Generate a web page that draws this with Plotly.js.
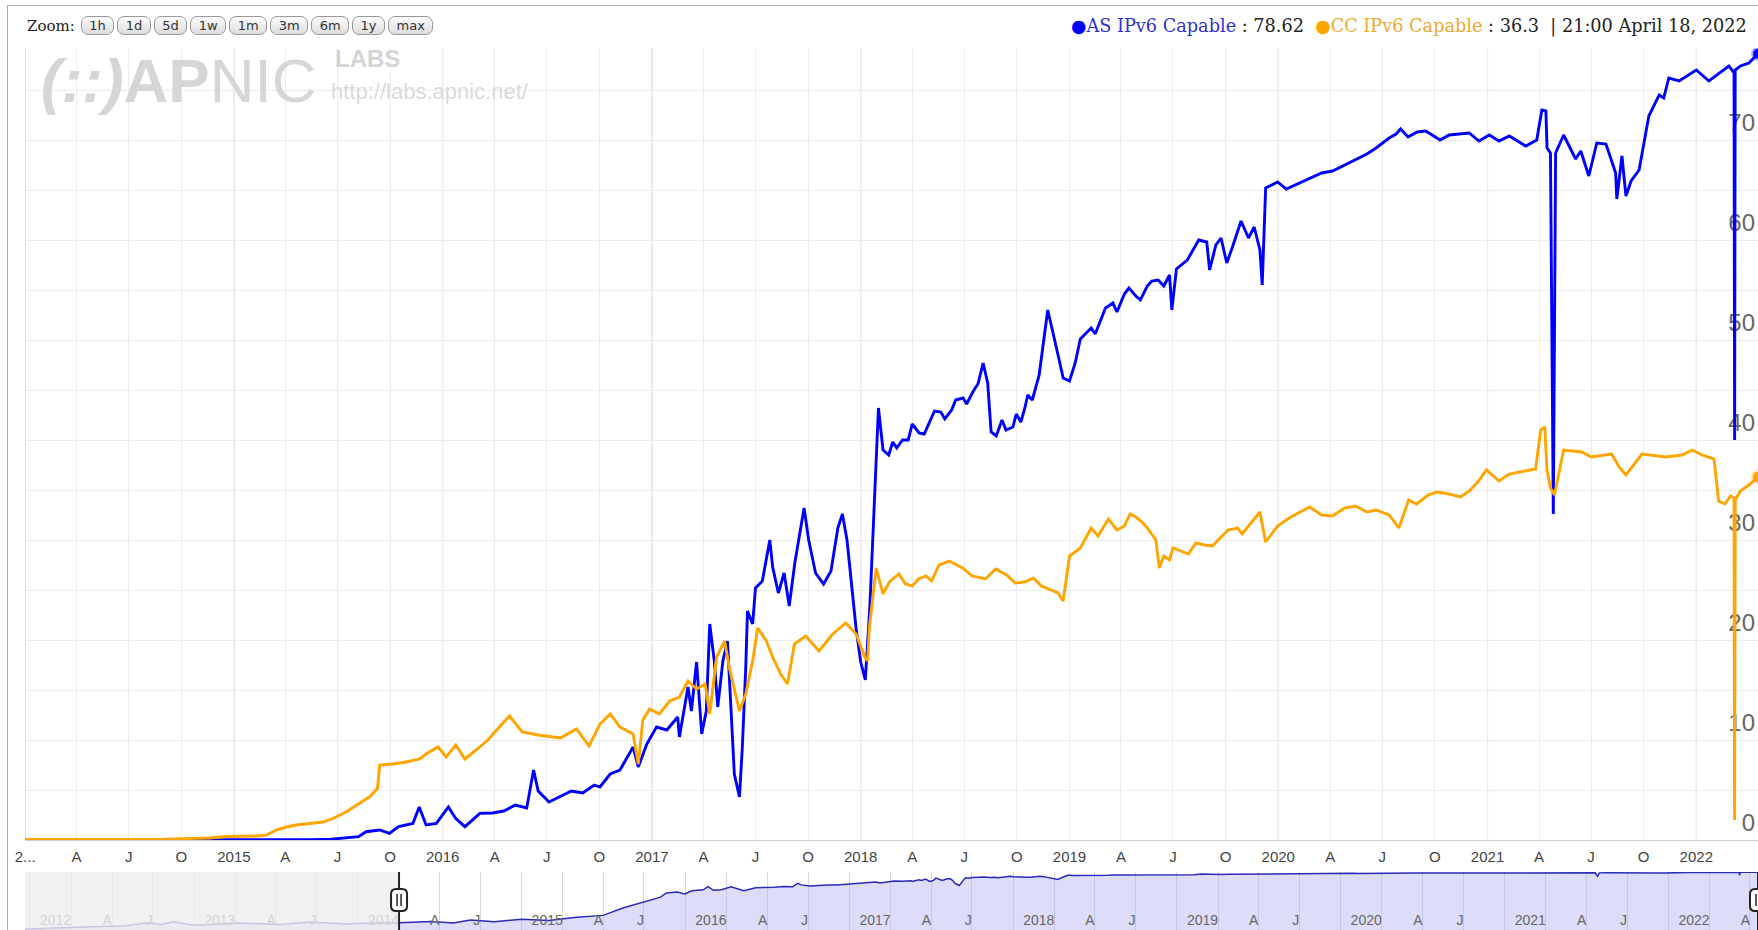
<!DOCTYPE html>
<html>
<head>
<meta charset="utf-8">
<script src="https://cdn.plot.ly/plotly-3.0.1.min.js"></script>
<style>
  body { margin: 0; overflow: hidden; background: #fff; }
  #frame { position: absolute; left: 7px; top: 5px; width: 2000px; height: 2000px; border: 1px solid #aaa; z-index: 0; }
  #chart { position: absolute; left: 0; top: 0; width: 1758px; height: 960px; z-index: 1; }
  #zoombar { position: absolute; left: 27px; top: 16px; display: flex; align-items: center; z-index: 2;
             font-family: 'DejaVu Serif', serif; font-size: 15px; color: #222; }
  .btn { display: inline-block; height: 17px; line-height: 17px; padding: 0 7.5px; margin-left: 3px;
         border: 1px solid #999; border-radius: 7px; background: linear-gradient(#fdfdfd, #dcdcdc);
         font-family: 'DejaVu Sans', sans-serif; font-size: 13px; color: #333; }
  .btn.first { margin-left: 6px; }
</style>
</head>
<body>
<div id="frame"></div>
<div id="chart"></div>
<div id="zoombar"><span>Zoom:</span></div>
<script>
// AS IPv6 Capable (blue), [date, percent] - starts early because the navigator shows it too
var asPoints = [
  ['2011-09-20',0.0003],['2012-01-15',0.0004],['2012-05-01',0.0006],['2012-06-20',0.0012],['2012-07-20',0.0008],
  ['2012-08-15',0.0015],['2012-10-01',0.0007],['2013-01-10',0.0011],['2013-04-10',0.0008],['2013-06-20',0.0014],
  ['2013-09-01',0.0009],['2013-11-15',0.0012],['2014-01-01',0.0012],['2014-03-15',0.0016],['2014-05-01',0.0011],
  ['2014-06-10',0.0022],['2014-08-01',0.0015],['2014-10-01',0.0025],['2014-12-01',0.002],['2015-02-01',0.004],
  ['2015-04-01',0.006],['2015-05-15',0.03],['2015-06-20',0.08],['2015-07-20',0.2],['2015-08-07',0.33],
  ['2015-08-20',0.83],['2015-09-13',1.0],['2015-09-30',0.66],['2015-10-16',1.33],['2015-11-10',1.66],
  ['2015-11-21',3.3],['2015-12-03',1.5],['2015-12-21',1.66],['2016-01-11',3.3],['2016-01-24',2.15],
  ['2016-02-09',1.33],['2016-03-06',2.66],['2016-03-28',2.7],['2016-04-17',2.9],['2016-05-07',3.5],
  ['2016-05-27',3.2],['2016-06-08',7.0],['2016-06-16',4.9],['2016-07-05',3.8],['2016-07-25',4.4],
  ['2016-08-13',4.9],['2016-09-02',4.7],['2016-09-22',5.5],['2016-10-02',5.3],['2016-10-20',6.6],
  ['2016-11-06',7.0],['2016-11-29',9.3],['2016-12-08',7.3],['2016-12-23',9.6],['2017-01-09',11.3],
  ['2017-01-27',11.0],['2017-02-15',12.3],['2017-02-18',10.3],['2017-03-05',15.3],['2017-03-11',12.9],
  ['2017-03-20',17.8],['2017-03-29',10.6],['2017-04-06',12.9],['2017-04-12',21.6],['2017-04-20',17.9],
  ['2017-04-26',13.3],['2017-05-05',17.9],['2017-05-13',19.9],['2017-05-19',13.3],['2017-05-25',6.6],
  ['2017-06-03',4.3],['2017-06-08',9.3],['2017-06-14',17.3],['2017-06-17',22.9],['2017-06-26',21.6],
  ['2017-07-01',25.2],['2017-07-13',25.9],['2017-07-22',28.5],['2017-07-26',30.0],['2017-07-31',27.3],
  ['2017-08-10',24.7],['2017-08-20',26.7],['2017-08-29',23.4],['2017-09-08',27.8],['2017-09-24',33.2],
  ['2017-10-02',30.0],['2017-10-14',26.7],['2017-10-28',25.6],['2017-11-10',26.9],['2017-11-22',31.2],
  ['2017-11-30',32.6],['2017-12-08',30.0],['2017-12-16',25.6],['2017-12-24',21.1],['2018-01-01',17.8],
  ['2018-01-09',16.0],['2018-01-17',23.4],['2018-01-24',33.4],['2018-02-01',43.2],['2018-02-09',39.0],
  ['2018-02-19',38.5],['2018-02-26',39.8],['2018-03-05',39.2],['2018-03-15',40.0],['2018-03-25',40.0],
  ['2018-04-01',41.6],['2018-04-13',40.7],['2018-04-22',40.6],['2018-05-02',41.8],['2018-05-10',42.9],
  ['2018-05-21',42.8],['2018-05-28',42.1],['2018-06-09',43.0],['2018-06-16',44.0],['2018-06-29',44.2],
  ['2018-07-05',43.6],['2018-07-18',45.0],['2018-07-25',45.6],['2018-08-03',47.7],['2018-08-11',45.7],
  ['2018-08-17',40.8],['2018-08-26',40.4],['2018-09-05',42.0],['2018-09-12',41.0],['2018-09-24',41.3],
  ['2018-09-30',42.6],['2018-10-08',41.8],['2018-10-15',43.2],['2018-10-20',44.5],['2018-10-28',44.0],
  ['2018-11-09',46.5],['2018-11-24',53.0],['2018-12-12',48.5],['2018-12-21',46.2],['2019-01-01',45.9],
  ['2019-01-11',47.7],['2019-01-20',50.1],['2019-02-08',51.2],['2019-02-15',50.6],['2019-02-27',52.4],
  ['2019-03-05',53.2],['2019-03-18',53.7],['2019-03-25',52.8],['2019-04-07',54.6],['2019-04-15',55.2],
  ['2019-04-27',54.4],['2019-05-05',54.0],['2019-05-17',55.4],['2019-05-25',55.9],['2019-06-05',56.0],
  ['2019-06-15',55.4],['2019-06-25',56.5],['2019-06-29',53.0],['2019-07-07',57.1],['2019-07-26',58.0],
  ['2019-08-15',60.0],['2019-08-29',59.8],['2019-09-03',57.0],['2019-09-14',59.5],['2019-09-23',60.2],
  ['2019-10-03',57.7],['2019-10-13',59.3],['2019-10-28',61.9],['2019-11-10',60.2],['2019-11-20',61.3],
  ['2019-11-30',59.0],['2019-12-04',55.5],['2019-12-10',65.2],['2019-12-31',65.8],['2020-01-15',65.1],
  ['2020-02-08',65.7],['2020-02-25',66.2],['2020-03-17',66.7],['2020-04-05',66.9],['2020-04-26',67.5],
  ['2020-05-15',68.0],['2020-06-04',68.6],['2020-06-20',69.2],['2020-07-13',70.2],['2020-07-25',70.6],
  ['2020-08-02',71.1],['2020-08-15',70.3],['2020-08-31',70.8],['2020-09-15',70.9],['2020-09-29',70.4],
  ['2020-10-10',70.0],['2020-10-26',70.5],['2020-11-30',70.7],['2020-12-17',69.9],['2021-01-04',70.5],
  ['2021-01-21',69.9],['2021-02-08',70.4],['2021-03-09',69.4],['2021-03-28',70.0],['2021-04-06',73.0],
  ['2021-04-13',72.9],['2021-04-15',69.2],['2021-04-21',68.7],['2021-04-26',32.6],['2021-04-30',68.7],
  ['2021-05-14',70.5],['2021-06-04',68.1],['2021-06-13',68.9],['2021-06-27',66.4],['2021-07-11',69.7],
  ['2021-07-27',69.6],['2021-08-13',66.7],['2021-08-15',64.1],['2021-08-24',68.4],['2021-08-31',64.4],
  ['2021-09-09',65.9],['2021-09-23',67.0],['2021-10-10',72.4],['2021-10-28',74.5],['2021-11-05',74.2],
  ['2021-11-14',76.2],['2021-12-02',75.9],['2022-01-01',77.0],['2022-01-23',75.9],['2022-02-04',76.4],
  ['2022-02-27',77.4],['2022-03-08',76.7],['2022-03-09',40.0],['2022-03-10',77.0],['2022-03-19',77.4],
  ['2022-04-03',77.7],['2022-04-18 21:00',78.62]
];

// CC IPv6 Capable (orange), [date, percent]
var ccPoints = [
  ['2014-01-01',0.05],['2014-05-01',0.06],['2014-09-01',0.08],['2014-11-20',0.2],['2014-12-20',0.35],
  ['2015-02-10',0.4],['2015-02-27',0.5],['2015-03-16',1.0],['2015-04-03',1.3],['2015-04-20',1.5],
  ['2015-05-19',1.66],['2015-06-06',1.8],['2015-06-23',2.15],['2015-07-16',2.8],['2015-08-08',3.65],
  ['2015-08-26',4.3],['2015-09-09',5.15],['2015-09-13',7.5],['2015-10-06',7.6],['2015-10-29',7.8],
  ['2015-11-22',8.1],['2015-12-03',8.6],['2015-12-24',9.3],['2016-01-07',8.3],['2016-01-24',9.5],
  ['2016-02-09',8.1],['2016-03-06',9.3],['2016-03-20',10.0],['2016-04-09',11.3],['2016-04-27',12.4],
  ['2016-05-19',10.8],['2016-06-16',10.5],['2016-07-25',10.2],['2016-08-22',11.1],['2016-09-13',9.4],
  ['2016-10-02',11.6],['2016-10-20',12.6],['2016-11-06',11.3],['2016-11-29',10.6],['2016-12-08',7.6],
  ['2016-12-16',12.0],['2016-12-28',13.1],['2017-01-14',12.6],['2017-02-01',13.9],['2017-02-18',14.3],
  ['2017-03-05',15.9],['2017-03-20',15.1],['2017-04-04',15.6],['2017-04-12',12.6],['2017-04-24',18.3],
  ['2017-05-08',19.9],['2017-05-16',17.3],['2017-06-03',12.9],['2017-06-14',14.6],['2017-06-26',17.9],
  ['2017-07-05',21.2],['2017-07-20',19.9],['2017-07-31',18.3],['2017-08-14',16.6],['2017-08-26',15.6],
  ['2017-09-07',19.6],['2017-09-27',20.4],['2017-10-20',18.9],['2017-11-13',20.6],['2017-12-06',21.7],
  ['2017-12-24',20.6],['2018-01-08',18.3],['2018-01-13',17.9],['2018-01-16',21.2],['2018-01-28',27.2],
  ['2018-02-09',24.6],['2018-02-20',25.8],['2018-03-09',26.6],['2018-03-20',25.6],['2018-04-01',25.4],
  ['2018-04-12',26.1],['2018-04-25',26.4],['2018-05-05',25.9],['2018-05-18',27.5],['2018-06-05',27.9],
  ['2018-06-28',27.2],['2018-07-15',26.4],['2018-08-07',26.1],['2018-08-25',27.1],['2018-09-13',26.5],
  ['2018-09-28',25.7],['2018-10-15',25.8],['2018-10-30',26.2],['2018-11-13',25.4],['2018-11-28',25.0],
  ['2018-12-12',24.7],['2018-12-21',23.9],['2019-01-01',28.4],['2019-01-20',29.2],['2019-02-08',31.2],
  ['2019-02-20',30.4],['2019-03-10',32.1],['2019-03-25',31.0],['2019-04-07',31.4],['2019-04-17',32.6],
  ['2019-04-27',32.3],['2019-05-08',31.8],['2019-05-17',31.2],['2019-06-01',30.0],['2019-06-07',27.2],
  ['2019-06-15',28.4],['2019-06-25',28.0],['2019-07-01',29.2],['2019-07-15',28.9],['2019-07-28',28.6],
  ['2019-08-10',29.7],['2019-08-25',29.5],['2019-09-08',29.4],['2019-09-23',30.3],['2019-10-05',31.0],
  ['2019-10-22',31.2],['2019-10-30',30.6],['2019-11-10',31.4],['2019-11-30',32.8],['2019-12-10',29.8],
  ['2019-12-31',31.4],['2020-01-20',32.2],['2020-02-08',32.8],['2020-02-25',33.3],['2020-03-17',32.5],
  ['2020-04-05',32.4],['2020-04-26',33.2],['2020-05-15',33.4],['2020-06-04',32.8],['2020-06-20',33.0],
  ['2020-07-13',32.5],['2020-07-30',31.2],['2020-08-16',34.0],['2020-08-30',33.6],['2020-09-19',34.5],
  ['2020-10-05',34.8],['2020-10-26',34.6],['2020-11-15',34.3],['2020-11-30',34.9],['2020-12-15',35.8],
  ['2020-12-30',37.0],['2021-01-21',35.9],['2021-02-08',36.6],['2021-03-26',37.1],['2021-04-04',41.0],
  ['2021-04-11',41.3],['2021-04-15',37.0],['2021-04-21',35.2],['2021-04-28',34.5],['2021-05-14',39.0],
  ['2021-06-15',38.8],['2021-07-01',38.3],['2021-08-06',38.6],['2021-08-19',37.3],['2021-08-31',36.5],
  ['2021-09-28',38.6],['2021-11-09',38.3],['2021-12-07',38.5],['2021-12-25',39.0],['2022-01-11',38.5],
  ['2022-02-01',38.1],['2022-02-09',33.9],['2022-02-20',33.6],['2022-03-02',34.4],['2022-03-08',34.2],
  ['2022-03-09',2.0],['2022-03-10',34.0],['2022-03-19',34.9],['2022-04-03',35.5],['2022-04-18 21:00',36.3]
];

// main axis ticks (quarters), year lines
var mainTickVals = ['2014-01-01','2014-04-01','2014-07-01','2014-10-01','2015-01-01','2015-04-01','2015-07-01','2015-10-01',
  '2016-01-01','2016-04-01','2016-07-01','2016-10-01','2017-01-01','2017-04-01','2017-07-01','2017-10-01',
  '2018-01-01','2018-04-01','2018-07-01','2018-10-01','2019-01-01','2019-04-01','2019-07-01','2019-10-01',
  '2020-01-01','2020-04-01','2020-07-01','2020-10-01','2021-01-01','2021-04-01','2021-07-01','2021-10-01',
  '2022-01-01','2022-04-01'];
var mainTickText = ['2...','A','J','O','2015','A','J','O','2016','A','J','O','2017','A','J','O',
  '2018','A','J','O','2019','A','J','O','2020','A','J','O','2021','A','J','O','2022','A'];
var yearTicks = ['2014-01-01','2015-01-01','2016-01-01','2017-01-01','2018-01-01','2019-01-01','2020-01-01','2021-01-01','2022-01-01'];

// navigator ticks
var navTickVals = ['2012-01-01','2012-04-01','2012-07-01','2013-01-01','2013-04-01','2013-07-01','2014-01-01','2014-04-01','2014-07-01',
  '2015-01-01','2015-04-01','2015-07-01','2016-01-01','2016-04-01','2016-07-01','2017-01-01','2017-04-01','2017-07-01',
  '2018-01-01','2018-04-01','2018-07-01','2019-01-01','2019-04-01','2019-07-01','2020-01-01','2020-04-01','2020-07-01',
  '2021-01-01','2021-04-01','2021-07-01','2022-01-01','2022-04-01'];
var navTickText = ['2012','A','J','2013','A','J','2014','A','J','2015','A','J','2016','A','J','2017','A','J',
  '2018','A','J','2019','A','J','2020','A','J','2021','A','J','2022','A'];

var zoomLabels = ['1h','1d','5d','1w','1m','3m','6m','1y','max'];
var legendStamp = '21:00 April 18, 2022';

var asDates = asPoints.map(function (p) { return p[0]; });
var asValues = asPoints.map(function (p) { return p[1]; });
var ccDates = ccPoints.map(function (p) { return p[0]; });
var ccValues = ccPoints.map(function (p) { return p[1]; });

var viewStart = '2013-12-31 18:00';
var viewEnd = asDates[asDates.length - 1];
var navStart = '2011-09-20';

// zoom buttons
var bar = document.getElementById('zoombar');
zoomLabels.forEach(function (t, i) {
  var b = document.createElement('span');
  b.className = 'btn' + (i === 0 ? ' first' : '');
  b.textContent = t;
  bar.appendChild(b);
});

var BLUE = '#0000ff', ORANGE = '#ffa500';
var asLast = asValues[asValues.length - 1];
var ccLast = ccValues[ccValues.length - 1];

var traces = [
  { x: asDates, y: asValues, type: 'scatter', mode: 'lines', xaxis: 'x', yaxis: 'y',
    line: { color: BLUE, width: 2.9 }, hoverinfo: 'skip' },
  { x: ccDates, y: ccValues, type: 'scatter', mode: 'lines', xaxis: 'x', yaxis: 'y',
    line: { color: ORANGE, width: 2.9 }, hoverinfo: 'skip' },
  { x: [viewEnd], y: [asLast], type: 'scatter', mode: 'markers', xaxis: 'x', yaxis: 'y',
    marker: { color: BLUE, size: 10, line: { color: 'rgba(0,0,255,0.3)', width: 4 } }, hoverinfo: 'skip' },
  { x: [ccDates[ccDates.length - 1]], y: [ccLast], type: 'scatter', mode: 'markers', xaxis: 'x', yaxis: 'y',
    marker: { color: ORANGE, size: 10, line: { color: 'rgba(255,165,0,0.35)', width: 4 } }, hoverinfo: 'skip' },
  // navigator
  { x: asDates, y: asValues, type: 'scatter', mode: 'lines', xaxis: 'x2', yaxis: 'y2',
    line: { color: '#2a2ab8', width: 1.5 }, fill: 'tozeroy', fillcolor: 'rgba(180,180,245,0.45)', hoverinfo: 'skip' }
];

var shapes = yearTicks.map(function (d) {
  return { type: 'line', xref: 'x', yref: 'y domain', x0: d, x1: d, y0: 0, y1: 1,
           line: { color: '#cdcdcd', width: 1 }, layer: 'below' };
});
// unselected part of navigator
shapes.push({ type: 'rect', xref: 'x2', yref: 'y2 domain', x0: navStart, x1: mainTickVals[0], y0: 0, y1: 1,
  fillcolor: 'rgba(238,238,238,0.8)', line: { width: 0 }, layer: 'above' });
// handles
[mainTickVals[0], viewEnd].forEach(function (d) {
  shapes.push({ type: 'line', xref: 'x2', yref: 'y2 domain', x0: d, x1: d, y0: 0, y1: 1,
    line: { color: '#222', width: 2 }, layer: 'above' });
  shapes.push({ type: 'path', xref: 'x2', yref: 'y2 domain', xsizemode: 'pixel', ysizemode: 'pixel',
    xanchor: d, yanchor: 0.55,
    path: 'M -8,6 L -8,-6 Q -8,-11 -3,-11 L 3,-11 Q 8,-11 8,-6 L 8,6 Q 8,11 3,11 L -3,11 Q -8,11 -8,6 Z',
    fillcolor: '#fff', line: { color: '#222', width: 2 }, layer: 'above' });
  shapes.push({ type: 'path', xref: 'x2', yref: 'y2 domain', xsizemode: 'pixel', ysizemode: 'pixel',
    xanchor: d, yanchor: 0.55, path: 'M -2,-6 L -2,6 M 2,-6 L 2,6',
    line: { color: '#222', width: 1.5 }, layer: 'above' });
});

var legendText =
  '<span style="color:' + BLUE + '">●</span><span style="color:#3030d0">AS IPv6 Capable</span> : ' + asLast +
  '  <span style="color:' + ORANGE + '">●</span><span style="color:#f0a830">CC IPv6 Capable</span> : ' + ccLast +
  '  | ' + legendStamp;

var annotations = [
  { xref: 'paper', yref: 'paper', x: 1, y: 1, xanchor: 'right', yanchor: 'middle', xshift: -9, yshift: 22,
    text: legendText, showarrow: false, font: { family: 'DejaVu Serif, serif', size: 17.7, color: '#222' } },
  // watermark
  { xref: 'paper', yref: 'paper', x: 0, y: 1, xanchor: 'left', yanchor: 'middle', xshift: 14, yshift: -32,
    text: '<b><i>(::)</i>AP</b>NIC', showarrow: false,
    font: { family: 'Liberation Sans, Arial, sans-serif', size: 62, color: '#d6d6d6' } },
  { xref: 'paper', yref: 'paper', x: 0, y: 1, xanchor: 'left', yanchor: 'middle', xshift: 308, yshift: -10,
    text: '<b>LABS</b>', showarrow: false,
    font: { family: 'Liberation Sans, Arial, sans-serif', size: 24, color: '#d4d4d4' } },
  { xref: 'paper', yref: 'paper', x: 0, y: 1, xanchor: 'left', yanchor: 'middle', xshift: 304, yshift: -43,
    text: 'http://labs.apnic.net/', showarrow: false,
    font: { family: 'Liberation Sans, Arial, sans-serif', size: 22, color: '#dadada' } }
];

var layout = {
  width: 1758, height: 960,
  margin: { l: 25, r: 0, t: 48, b: 26 },
  paper_bgcolor: 'rgba(0,0,0,0)', plot_bgcolor: '#fff',
  showlegend: false, hovermode: false,
  font: { family: 'Liberation Sans, Arial, sans-serif', color: '#444' },
  xaxis: {
    type: 'date', anchor: 'y', domain: [0, 1], range: [viewStart, viewEnd],
    tickmode: 'array', tickvals: mainTickVals, ticktext: mainTickText,
    showgrid: true, gridcolor: '#ececec', ticks: '', zeroline: false, ticklabelstandoff: 3,
    showline: true, linecolor: '#cccccc', tickfont: { size: 15, color: '#444' }
  },
  yaxis: {
    anchor: 'x', domain: [0.10609, 1], range: [0, 79.2], side: 'right',
    tick0: 0, dtick: 10, showgrid: true, gridcolor: '#ececec',
    minor: { dtick: 5, showgrid: true, gridcolor: '#ececec' },
    ticks: '', ticklabelposition: 'inside', ticklabelshift: -17,
    tickfont: { size: 24, color: '#666' }, zeroline: false, layer: 'below traces'
  },
  xaxis2: {
    type: 'date', anchor: 'y2', domain: [0, 1], range: [navStart, viewEnd],
    tickmode: 'array', tickvals: navTickVals, ticktext: navTickText,
    showgrid: true, gridcolor: '#d6d6de',
    minor: { dtick: 'M3', tick0: '2012-01-01', showgrid: true, gridcolor: '#d6d6de' },
    ticks: '', ticklabelposition: 'inside left', zeroline: false,
    tickfont: { size: 14, color: '#666' }
  },
  yaxis2: {
    anchor: 'x2', domain: [0, 0.06998], type: 'log', range: [-4, 1.92],
    showgrid: false, showticklabels: false, ticks: '', zeroline: false
  },
  shapes: shapes,
  annotations: annotations
};

Plotly.newPlot('chart', traces, layout, { displayModeBar: false, staticPlot: true });
</script>
</body>
</html>
